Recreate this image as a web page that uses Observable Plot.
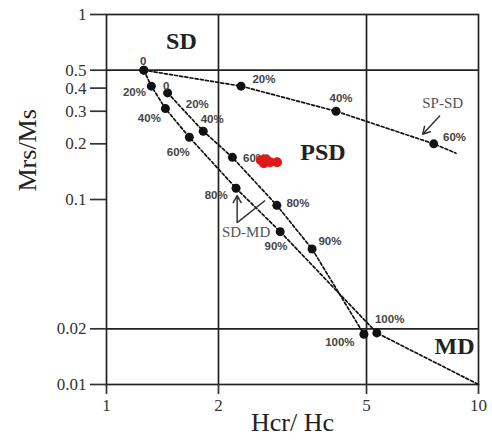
<!DOCTYPE html>
<html>
<head>
<meta charset="utf-8">
<script src="https://cdn.jsdelivr.net/npm/d3@7"></script>
<script src="https://cdn.jsdelivr.net/npm/@observablehq/plot@0.6"></script>
<style>
  html, body { margin: 0; padding: 0; background: white; }
</style>
</head>
<body>
<div id="chart"></div>
<script>
// Axis ticks and reference lines
const xTicks = [1, 2, 5, 10];
const yTicks = [1, 0.5, 0.4, 0.3, 0.2, 0.1, 0.02, 0.01];
const gridX = [2, 5];
const gridY = [0.5, 0.02];

// SP-SD mixing curve (last point: end of dashed line, no dot)
const spsdHcr = [1.26, 2.30, 4.14, 7.58, 8.7];
const spsdMrs = [0.50, 0.41, 0.30, 0.20, 0.178];
const spsdDot = [true, true, true, true, false];

// SD-MD mixing curve 1 (last point: continuation to corner, no dot)
const sdmd1Hcr = [1.26, 1.32, 1.44, 1.67, 2.23, 2.93, 5.33, 10];
const sdmd1Mrs = [0.50, 0.41, 0.31, 0.217, 0.115, 0.067, 0.019, 0.01];
const sdmd1Dot = [true, true, true, true, true, true, true, false];

// SD-MD mixing curve 2
const sdmd2Hcr = [1.46, 1.82, 2.18, 2.87, 3.57, 4.92];
const sdmd2Mrs = [0.377, 0.234, 0.169, 0.093, 0.054, 0.0187];

// Percentage labels
const pctText = ["0", "20%", "40%", "60%",
                 "20%", "40%", "60%", "80%", "90%", "100%",
                 "0", "20%", "40%", "60%", "80%", "90%", "100%"];
const pctHcr = [1.256, 2.65, 4.27, 8.62,
                1.189, 1.304, 1.56, 1.972, 2.856, 4.24,
                1.448, 1.754, 1.924, 2.50, 3.27, 3.986, 5.77];
const pctMrs = [0.555, 0.449, 0.354, 0.217,
                0.3815, 0.2756, 0.18, 0.105, 0.0555, 0.0169,
                0.411, 0.328, 0.272, 0.167, 0.0951, 0.0591, 0.02256];

// Domain labels
const regionText = ["SD", "PSD", "MD"];
const regionHcr = [1.59, 3.82, 8.62];
const regionMrs = [0.72, 0.18, 0.0161];

// Annotations
const noteText = ["SP-SD", "SD-MD"];
const noteHcr = [8.01, 2.373];
const noteMrs = [0.332, 0.0662];
const arrowX1 = [7.86, 2.245];
const arrowY1 = [0.2825, 0.075];
const arrowX2 = [7.08, 2.245];
const arrowY2 = [0.2255, 0.105];
const linkX1 = [2.245];
const linkY1 = [0.075];
const linkX2 = [2.669];
const linkY2 = [0.0988];

// Samples (red)
const sampleHcr = [2.60, 2.685, 2.65, 2.753, 2.873];
const sampleMrs = [0.163, 0.165, 0.157, 0.159, 0.159];

const pts = (xs, ys) => xs.map((x, i) => ({x, y: ys[i]}));
const dash = {x: "x", y: "y", stroke: "#111", strokeWidth: 1.7, strokeDasharray: "3,2.2"};
const ink = "#222";

const chart = Plot.plot({
  width: 492,
  height: 448,
  marginLeft: 106,
  marginRight: 14,
  marginTop: 14,
  marginBottom: 64,
  style: {fontFamily: "Liberation Serif", background: "white", color: "#333"},
  x: {type: "log", domain: [1, 10]},
  y: {type: "log", domain: [0.01, 1]},
  marks: [
    Plot.ruleX(gridX, {stroke: ink, strokeWidth: 1.7}),
    Plot.ruleY(gridY, {stroke: ink, strokeWidth: 1.7}),
    Plot.frame({stroke: ink, strokeWidth: 1.7}),
    Plot.axisX({ticks: xTicks, tickFormat: d => String(d), tickSize: 10, tickPadding: 4,
                fontSize: 17, label: null, strokeWidth: 1.7, color: "#333"}),
    Plot.axisY({ticks: yTicks, tickFormat: d => String(d), tickSize: 16, tickPadding: 4,
                fontSize: 17, label: null, strokeWidth: 1.7, color: "#333"}),
    Plot.text(["Mrs/Ms"], {text: d => d, frameAnchor: "left", dx: -79, dy: -8, rotate: -90,
                           fontSize: 26, fill: "#222"}),
    Plot.text(["Hcr/ Hc"], {text: d => d, frameAnchor: "bottom", dy: 46, fontSize: 26, fill: "#222"}),
    Plot.line(pts(spsdHcr, spsdMrs), dash),
    Plot.line(pts(sdmd1Hcr, sdmd1Mrs), dash),
    Plot.line(pts(sdmd2Hcr, sdmd2Mrs), dash),
    Plot.dot(pts(spsdHcr, spsdMrs).filter((d, i) => spsdDot[i]), {x: "x", y: "y", r: 4.5, fill: "#111"}),
    Plot.dot(pts(sdmd1Hcr, sdmd1Mrs).filter((d, i) => sdmd1Dot[i]), {x: "x", y: "y", r: 4.5, fill: "#111"}),
    Plot.dot(pts(sdmd2Hcr, sdmd2Mrs), {x: "x", y: "y", r: 4.5, fill: "#111"}),
    Plot.text(pctText, {x: pctHcr, y: pctMrs, text: d => d, fontFamily: "Liberation Sans",
                        fontWeight: "bold", fontSize: 11.5, fill: "#444"}),
    Plot.text(regionText, {x: regionHcr, y: regionMrs, text: d => d, fontWeight: "bold",
                           fontSize: 24, fill: "#222"}),
    Plot.text(noteText, {x: noteHcr, y: noteMrs, text: d => d, fontSize: 15, fill: "#555"}),
    Plot.arrow(arrowX1, {x1: arrowX1, y1: arrowY1, x2: arrowX2, y2: arrowY2, bend: 0,
                         headLength: 8, stroke: "#333", strokeWidth: 1.5}),
    Plot.link(linkX1, {x1: linkX1, y1: linkY1, x2: linkX2, y2: linkY2, stroke: "#333", strokeWidth: 1.5}),
    Plot.dot(pts(sampleHcr, sampleMrs), {x: "x", y: "y", r: 5, fill: "#dd1a1a"})
  ]
});
document.getElementById("chart").appendChild(chart);
</script>
</body>
</html>
